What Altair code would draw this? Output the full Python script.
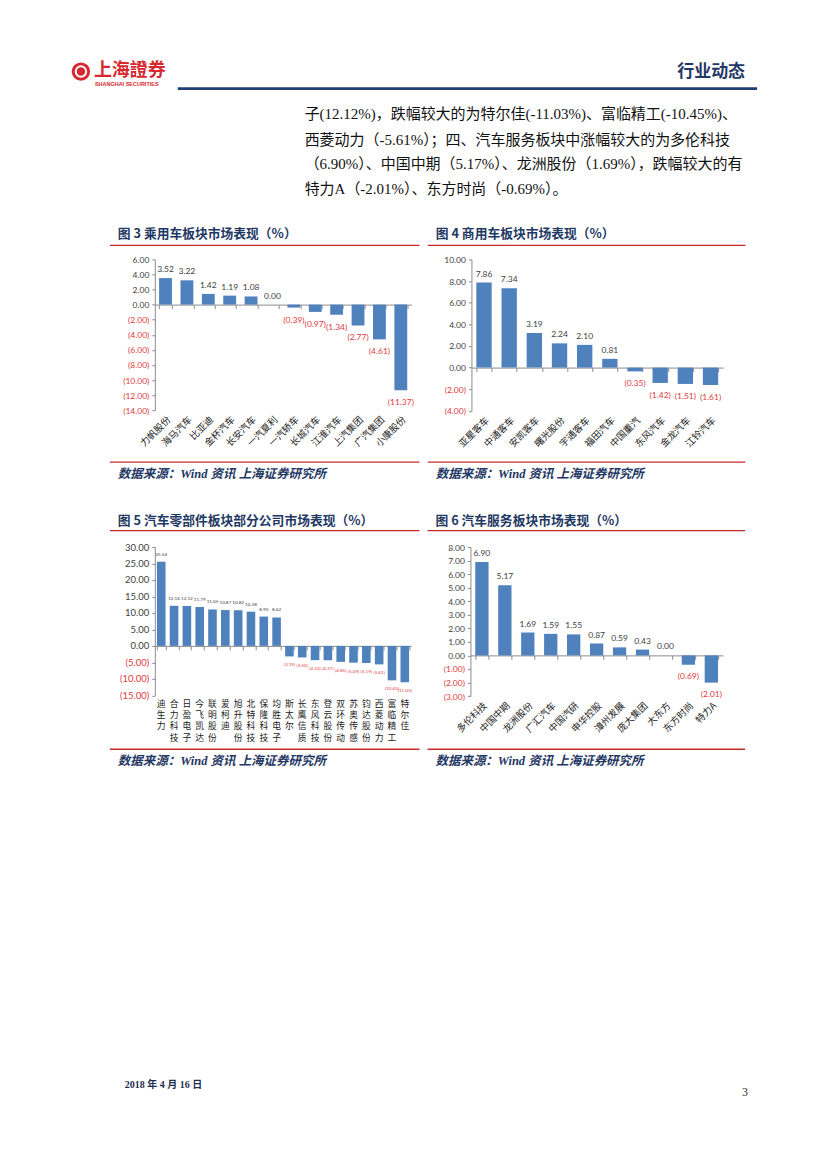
import altair as alt
import pandas as pd

# ---------------- data ----------------
c3_cats = ["力帆股份", "海马汽车", "比亚迪", "金杯汽车", "长安汽车", "一汽夏利",
           "一汽轿车", "长城汽车", "江淮汽车", "上汽集团", "广汽集团", "小康股份"]
c3_vals = [3.52, 3.22, 1.42, 1.19, 1.08, 0.00, -0.39, -0.97, -1.34, -2.77, -4.61, -11.37]
c3_ticks = [6, 4, 2, 0, -2, -4, -6, -8, -10, -12, -14]

c4_cats = ["亚星客车", "中通客车", "安凯客车", "曙光股份", "宇通客车", "福田汽车",
           "中国重汽", "东风汽车", "金龙汽车", "江铃汽车"]
c4_vals = [7.86, 7.34, 3.19, 2.24, 2.10, 0.81, -0.35, -1.42, -1.51, -1.61]
c4_ticks = [10, 8, 6, 4, 2, 0, -2, -4]

c5_cats = ["迪生力", "合力科技", "日盈电子", "今飞凯达", "联明股份", "爱柯迪", "旭升股份",
           "北特科技", "保隆科技", "均胜电子", "斯太尔", "长鹰信质", "东风科技", "登云股份",
           "双环传动", "苏奥传感", "钧达股份", "西菱动力", "富临精工", "特尔佳"]
c5_vals = [25.54, 12.16, 12.12, 11.79, 11.05, 10.87, 10.82, 10.38, 8.90, 8.62,
           -3.19, -3.50, -4.32, -4.37, -4.85, -5.09, -5.19, -5.61, -10.45, -11.03]
c5_ticks = [30, 25, 20, 15, 10, 5, 0, -5, -10, -15]

c6_cats = ["多伦科技", "中国中期", "龙洲股份", "广汇汽车", "中国汽研", "申华控股",
           "漳州发展", "庞大集团", "大东方", "东方时尚", "特力A"]
c6_vals = [6.90, 5.17, 1.69, 1.59, 1.55, 0.87, 0.59, 0.43, 0.00, -0.69, -2.01]
c6_ticks = [8, 7, 6, 5, 4, 3, 2, 1, 0, -1, -2, -3]

titles = ["图 3  乘用车板块市场表现（%）", "图 4  商用车板块市场表现（%）",
          "图 5  汽车零部件板块部分公司市场表现（%）", "图 6  汽车服务板块市场表现（%）"]
source_text = "数据来源：Wind 资讯  上海证券研究所"
para_lines = [
    "子(12.12%)，跌幅较大的为特尔佳(-11.03%)、富临精工(-10.45%)、",
    "西菱动力（-5.61%）；四、汽车服务板块中涨幅较大的为多伦科技",
    "（6.90%）、中国中期（5.17%）、龙洲股份（1.69%），跌幅较大的有",
    "特力A（-2.01%）、东方时尚（-0.69%）。",
]
header_right = "行业动态"
logo_cn = "上海證券"
logo_en = "SHANGHAI SECURITIES"
footer_date = "2018 年 4 月 16 日"
page_no = "3"

# ---------------- styles ----------------
CJK = "Noto Sans CJK SC"
NUM = "Lato"
SERIF = "Liberation Serif, Noto Sans CJK SC"
BLUE = "#4f81bd"
NAVY = "#1f3864"
RED = "#c62b2b"
NEGRED = "#e0393e"
GREY = "#8c8c8c"
ONE = pd.DataFrame({"k": [0]})


def txt(s, px, py, org, size=12, color="#000", weight="normal", style="normal",
        align="left", font=CJK, baseline="middle"):
    return alt.Chart(ONE).mark_text(
        text=s, align=align, baseline=baseline, fontSize=size, color=color,
        fontWeight=weight, fontStyle=style, font=font
    ).encode(x=alt.value(px - org[0]), y=alt.value(py - org[1]))


def hline(x1, x2, py, org, color, width=1.0):
    return alt.Chart(ONE).mark_rule(color=color, strokeWidth=width).encode(
        x=alt.value(x1 - org[0]), x2=alt.value(x2 - org[0]), y=alt.value(py - org[1]))


def corners(x1, y1, x2, y2, org):
    return alt.Chart(ONE).mark_rule(opacity=0, strokeOpacity=0).encode(
        x=alt.value(x1 - org[0]), x2=alt.value(x2 - org[0]),
        y=alt.value(y1 - org[1]), y2=alt.value(y2 - org[1]))


def panel(cats, vals, ticks, org, W, H, pad, cell, title, title_y, line_x, line_y,
          bot_y, src_y, vertical=False, ylab=8.5, dlab=8.5, dpos=-9, dneg=12, extra=()):
    ymax, ymin = ticks[0], ticks[-1]
    df = pd.DataFrame({"cat": cats, "v": vals})
    base = alt.Chart(df)
    xsc = alt.Scale(domain=cats, paddingInner=pad, paddingOuter=pad / 2)
    ysc = alt.Scale(domain=[ymin, ymax], nice=False)
    if vertical:
        xl = dict(labelAngle=0, labelExpr="split(datum.label, '')", labelBaseline="top",
                  labelAlign="center", labelLineHeight=11.3, labelFontSize=8.8, labelPadding=4)
    else:
        xl = dict(labelAngle=-45, labelFontSize=9.5, labelPadding=4)
    xaxis = alt.Axis(title=None, domain=False, ticks=False, labelFont=CJK, labelColor="#222",
                     labelOverlap=False, labelLimit=300, orient="bottom", **xl)
    yaxis = alt.Axis(
        title=None, values=ticks, grid=False,
        labelExpr="datum.value < 0 ? '(' + format(-datum.value, '.2f') + ')' : format(datum.value, '.2f')",
        labelColor={"condition": {"test": "datum.value < 0", "value": NEGRED}, "value": "#404040"},
        labelFont=NUM, labelFontSize=ylab, domainColor=GREY, tickColor=GREY, tickSize=3,
        labelPadding=3, orient="left")
    bars = base.mark_bar(color=BLUE).encode(
        x=alt.X("cat:N", sort=None, scale=xsc, axis=xaxis),
        y=alt.Y("v:Q", scale=ysc, axis=yaxis))
    zero_off = -(H - H * ymax / (ymax - ymin))
    zaxis = alt.Axis(title=None, labels=False, domain=True, domainColor=GREY, ticks=True,
                     tickBand="extent", tickSize=4, tickColor=GREY, offset=zero_off,
                     orient="bottom")
    pos = base.transform_filter("datum.v >= 0").mark_text(
        baseline="middle", dy=dpos, fontSize=dlab, font=NUM, color="#404040"
    ).encode(x=alt.X("cat:N", sort=None, scale=xsc, axis=zaxis),
             y=alt.Y("v:Q", scale=ysc, axis=yaxis),
             text=alt.Text("v:Q", format=".2f"))
    neg = base.transform_filter("datum.v < 0").transform_calculate(
        lbl="'(' + format(-datum.v, '.2f') + ')'"
    ).mark_text(baseline="middle", dy=dneg, fontSize=dlab, font=NUM, color=NEGRED).encode(
        x=alt.X("cat:N", sort=None, scale=xsc, axis=None),
        y=alt.Y("v:Q", scale=ysc, axis=yaxis),
        text="lbl:N")
    decos = [
        corners(cell[0], cell[1], cell[2], cell[3], org),
        txt(title, line_x[0] + 8, title_y, org, size=12.8, color=NAVY, weight="bold"),
        hline(line_x[0], line_x[1], line_y, org, RED, 1.3),
        hline(line_x[0], line_x[1], bot_y, org, RED, 1.3),
        txt(source_text, line_x[0] + 8, src_y, org, size=12.5, color=NAVY, weight="bold",
            style="italic", font=SERIF),
    ] + list(extra)
    return alt.layer(bars, pos, neg, *decos).resolve_scale(x="independent").resolve_axis(
        x="independent").properties(width=W, height=H)


# ---------------- header (same left extent as the panels) ----------------
HO = (155, 8)
header_layers = [
    corners(8, 8, 818, 215, HO),
    alt.Chart(ONE).mark_point(shape="circle", size=340, filled=True, color="#d7282f",
                              opacity=1).encode(x=alt.value(81 - HO[0]), y=alt.value(71 - HO[1])),
    alt.Chart(ONE).mark_point(shape="circle", size=110, filled=False, color="white",
                              strokeWidth=2, opacity=1).encode(x=alt.value(81 - HO[0]),
                                                               y=alt.value(71 - HO[1])),
    txt(logo_cn, 94, 70, HO, size=18, color="#d7282f", weight="bold"),
    txt(logo_en, 95, 83, HO, size=5.5, color="#d7282f", weight="bold", font="Liberation Sans"),
    txt(header_right, 746, 71, HO, size=17, color=NAVY, weight="bold", align="right"),
    hline(178, 758, 88, HO, "#1f3f73", 2.8),
]
for i, line in enumerate(para_lines):
    header_layers.append(txt(line, 305, [113, 139, 164, 189][i], HO, size=15, color="#111",
                             font=SERIF))
header = alt.layer(*header_layers).properties(width=257, height=207)

# ---------------- panels ----------------
c3 = panel(c3_cats, c3_vals, c3_ticks, (155, 259), 257, 151, 0.4, (8, 215, 423.5, 495),
           titles[0], 234, (110, 420), 245, 462, 474)
c4 = panel(c4_cats, c4_vals, c4_ticks, (470.7, 259), 252, 151.7, 0.39, (423.5, 215, 818, 495),
           titles[1], 234, (427, 745), 245, 462, 474)
c5 = panel(c5_cats, c5_vals, c5_ticks, (155, 546.5), 256.7, 148.5, 0.33, (8, 495, 423.5, 1110),
           titles[2], 520, (110, 420), 530, 749, 761, vertical=True, ylab=9.5, dlab=4.6,
           dpos=-7, dneg=9,
           extra=[txt(footer_date, 125, 1085, (155, 546.5), size=10, color="#1f2d50",
                      weight="bold", font=SERIF)])
c6 = panel(c6_cats, c6_vals, c6_ticks, (470, 546.5), 252.7, 149.2, 0.42, (423.5, 495, 818, 1110),
           titles[3], 520, (427, 745), 530, 749, 761, dneg=11,
           extra=[txt(page_no, 748, 1092, (470, 546.5), size=12, color="#333", align="right",
                      font=SERIF)])

chart = alt.vconcat(
    header,
    alt.hconcat(c3, c4, spacing=0),
    alt.hconcat(c5, c6, spacing=0),
    spacing=0,
).properties(padding=0).configure_view(stroke=None)

chart.save("out.html", embed_options={"renderer": "svg", "actions": False})
